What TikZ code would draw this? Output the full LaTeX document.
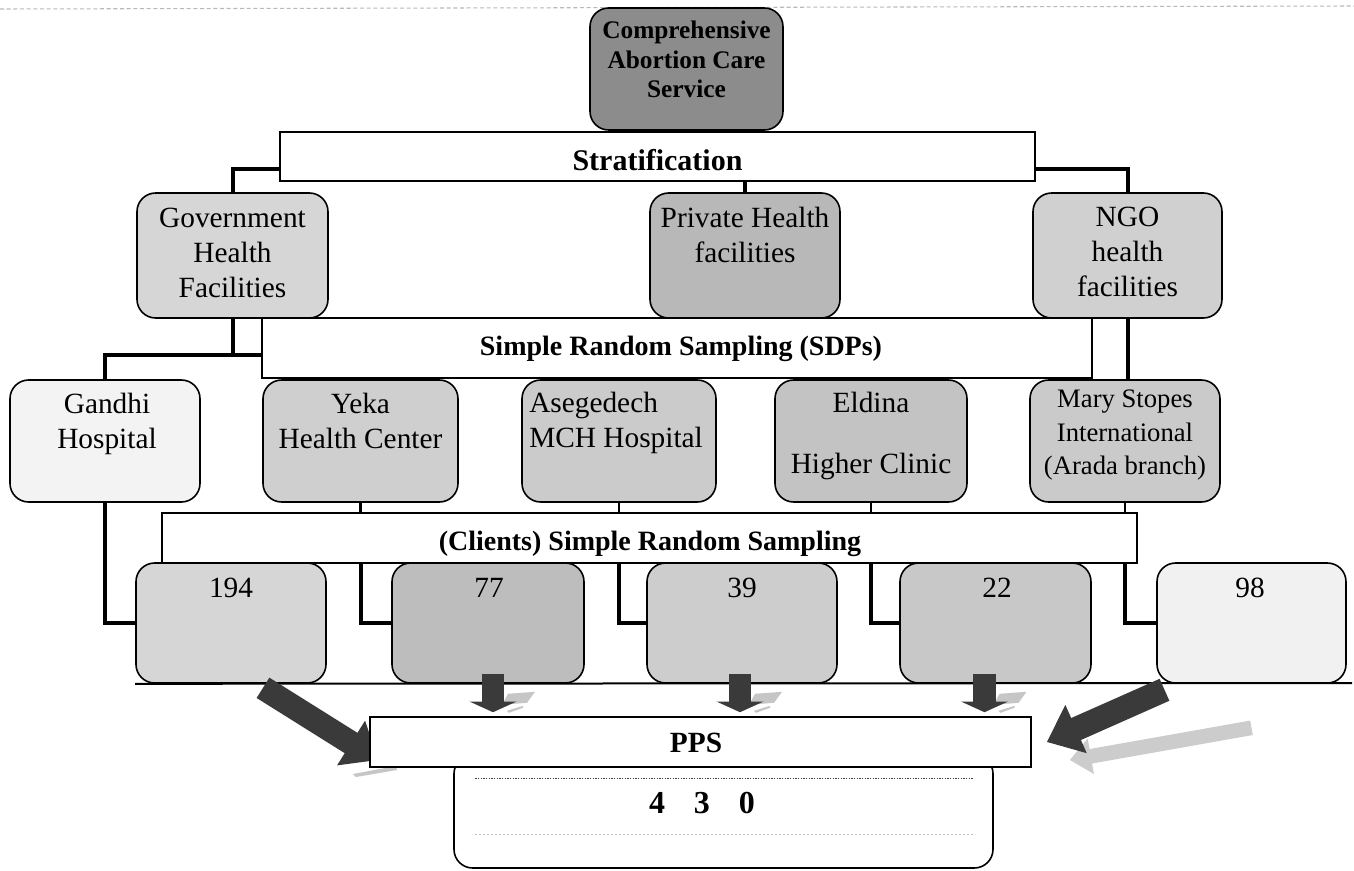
\documentclass[tikz,border=0pt]{standalone}
\usepackage{fontspec}
\setmainfont{Liberation Serif}
\usetikzlibrary{arrows.meta,calc,fit}
\pgfdeclarelayer{fg}
\pgfsetlayers{main,fg}
\definecolor{arr}{HTML}{3A3A3A}
\definecolor{cComp}{HTML}{8C8C8C}
\definecolor{cGov}{HTML}{D6D6D6}
\definecolor{cPriv}{HTML}{B8B8B8}
\definecolor{cNgo}{HTML}{D0D0D0}
\definecolor{cGan}{HTML}{F3F3F3}
\definecolor{cYek}{HTML}{CFCFCF}
\definecolor{cAse}{HTML}{CBCBCB}
\definecolor{cEld}{HTML}{C3C3C3}
\definecolor{cMar}{HTML}{CACACA}
\definecolor{cA}{HTML}{D6D6D6}
\definecolor{cB}{HTML}{BDBDBD}
\definecolor{cC}{HTML}{CDCDCD}
\definecolor{cD}{HTML}{C8C8C8}
\definecolor{cE}{HTML}{F1F1F1}
\begin{document}
\begin{tikzpicture}[x=0.75pt,y=-0.75pt,
  box/.style={draw=black,line width=1.2pt,rounded corners=14pt,inner sep=0pt},
  flat/.style={draw=black,line width=1.2pt,fill=white,inner sep=0pt},
  conn/.style={line width=3pt,draw=black},
  stub/.style={line width=2pt,draw=black},
  txt/.style={font=\fontsize{22}{26}\selectfont,align=center,inner sep=0pt,anchor=north},
  lbl/.style={font=\bfseries\fontsize{21}{25}\selectfont,inner sep=0pt,anchor=base},
  num/.style={font=\fontsize{22}{26}\selectfont,inner sep=0pt,anchor=base},
  bigarrow/.style={draw=arr,line width=18pt,-{Triangle[length=24pt,width=38pt]}},
  downarrow/.style={draw=arr,line width=17pt,-{Triangle[length=8pt,width=35pt]}},
  shadowarrow/.style={draw=gray!40,line width=11pt,-{Triangle[length=16pt,width=26pt]}},
  shade/.style={fill=gray!45,draw=none}
]
\useasboundingbox (0,0) rectangle (1354,871);
\fill[white] (0,0) rectangle (1354,871);
\draw[gray!55,line width=0.8pt,densely dashed] (0,9) -- (1354,6);

% top
\node[box,fill=cComp,fit={(590,8)(783,130)}] (comp) {};
\node[txt,font=\bfseries\fontsize{19}{22}\selectfont] (compt) at (686.5,21) {Comprehensive\\Abortion Care\\Service};
\node[flat,fit={(280,132)(1035,181)}] (strat) {};
\node[lbl,font=\bfseries\fontsize{22.5}{26}\selectfont] (stratt) at (657.5,170) {Stratification};

% sampling of SDPs
\node[flat,fit={(262,318)(1092,378)}] (sdp) {};
\node[lbl] (sdpt) at (681,355) {Simple Random Sampling (SDPs)};

% row 2
\node[box,fill=cGov,fit={(137,193)(328,318)}] (gov) {};
\node[box,fill=cPriv,fit={(650,193)(840,318)}] (priv) {};
\node[box,fill=cNgo,fit={(1033,193)(1222,318)}] (ngo) {};
\node[txt] (govt) at (232.5,208) {Government\\Health\\Facilities};
\node[txt] (privt) at (745,207) {Private Health\\facilities};
\node[txt] (ngot) at (1127.5,207) {NGO\\health\\facilities};

% clients box
\node[flat,fit={(162,513)(1137,563)}] (clients) {};
\node[lbl] (clientst) at (650,550) {(Clients) Simple Random Sampling};

% row 3
\node[box,fill=cGan,fit={(10,380)(200,502)}] (gandhi) {};
\node[box,fill=cYek,fit={(263,380)(458,502)}] (yeka) {};
\node[box,fill=cAse,fit={(522,380)(716,502)}] (aseg) {};
\node[box,fill=cEld,fit={(775,380)(967,502)}] (eld) {};
\node[box,fill=cMar,fit={(1030,380)(1220,502)}] (mary) {};
\node[txt] (gandhit) at (107,393) {Gandhi\\Hospital};
\node[txt] (yekat) at (360.5,393) {Yeka\\Health Center};
\node[txt,align=left,anchor=north west] (asegt) at (529,392) {Asegedech\\MCH Hospital};
\node[txt] (eldt) at (871,392) {Eldina\\[20pt]Higher Clinic};
\node[txt,font=\fontsize{20}{25}\selectfont] (maryt) at (1125,390) {Mary Stopes\\International\\(Arada branch)};

% row 4
\node[box,fill=cA,fit={(136,563)(326,683)}] (nA) {};
\node[box,fill=cB,fit={(392,563)(584,683)}] (nB) {};
\node[box,fill=cC,fit={(647,563)(837,683)}] (nC) {};
\node[box,fill=cD,fit={(900,563)(1091,683)}] (nD) {};
\node[box,fill=cE,fit={(1157,563)(1346,683)}] (nE) {};
\node[num] (nAt) at (231,597) {194};
\node[num] (nBt) at (489,597) {77};
\node[num] (nCt) at (742,597) {39};
\node[num] (nDt) at (997,597) {22};
\node[num] (nEt) at (1250,597) {98};

% connectors
\draw[conn] ([yshift=-9pt]strat.west) -| (gov.north);
\draw[conn] (priv.north |- strat.south) -- (priv.north);
\draw[conn] ([yshift=-9pt]strat.east) -| (ngo.north);
\coordinate (gj) at (232.5,355);
\draw[conn] (gov.south) -- (gj) -| (gandhi.north);
\draw[conn] (gj) -- (gj -| sdp.west);
\draw[conn] (ngo.south) -- (ngo.south |- mary.north);
\draw[stub] (yeka.south) -- (yeka.south |- clients.north);
\draw[stub] (aseg.south) -- (aseg.south |- clients.north);
\draw[stub] (eld.south) -- (eld.south |- clients.north);
\draw[stub] (mary.south) -- (mary.south |- clients.north);
\draw[conn] (gandhi.south) |- (nA.west);
\draw[conn] (clients.south -| yeka.south) |- (nB.west);
\draw[conn] (clients.south -| aseg.south) |- (nC.west);
\draw[conn] (clients.south -| eld.south) |- (nD.west);
\draw[conn] (clients.south -| mary.south) |- (nE.west);
\coordinate (baseend) at (1352,683);
\draw[line width=1.5pt] (nA.south west) -- (baseend);

% bottom boxes on front layer
\begin{pgfonlayer}{fg}
\node[box,fill=white,fit={(454,755)(993,868)}] (total) {};
\draw[densely dotted,line width=1pt,black!75] ($(total.north west)+(22,24)$) -- ($(total.north east)+(-21,24)$);
\draw[dotted,line width=1pt,gray!50] ($(total.north west)+(22,80)$) -- ($(total.north east)+(-21,80)$);
\node[flat,fit={(370,717)(1031,767)}] (pps) {};
\node[lbl,font=\bfseries\fontsize{22}{26}\selectfont] (ppst) at (696,752) {PPS};
\node[lbl,font=\bfseries\fontsize{24}{28}\selectfont] (totalt) at (702,813) {4\hspace{0.9em}3\hspace{0.9em}0};
\end{pgfonlayer}

% shadows
\draw[shadowarrow] ($(nE.south)+(0,44)$) -- ($(pps.east)+(38,18)$);
\fill[shade] (353,774) -- (396,766) -- (397,770) -- (356,777) -- cycle;
\foreach \b/\dx in {nB/5,nC/-2,nD/-11}{
  \coordinate (s) at ($(\b.south)+(\dx,0)$);
  \fill[shade] ($(s)+(15,10)$) -- ($(s)+(42,8)$) -- ($(s)+(34,19)$) -- ($(s)+(9,21)$) -- cycle;
  \fill[shade] ($(s)+(14,27)$) -- ($(s)+(30,22)$) -- ($(s)+(30,24)$) -- ($(s)+(16,29)$) -- cycle;
}

% arrows to PPS
\draw[bigarrow] ($(nA.south)+(32,4)$) -- ($(pps.west)+(9,18)$);
\draw[bigarrow] ($(nE.south)+(-87,6)$) -- ($(pps.east)+(15,0)$);
\draw[downarrow] ($(nB.south)+(5,-10)$) -- ($(nB.south |- pps.north)+(5,-4)$);
\draw[downarrow] ($(nC.south)+(-2,-10)$) -- ($(nC.south |- pps.north)+(-2,-4)$);
\draw[downarrow] ($(nD.south)+(-11,-10)$) -- ($(nD.south |- pps.north)+(-11,-4)$);
\end{tikzpicture}
\end{document}
